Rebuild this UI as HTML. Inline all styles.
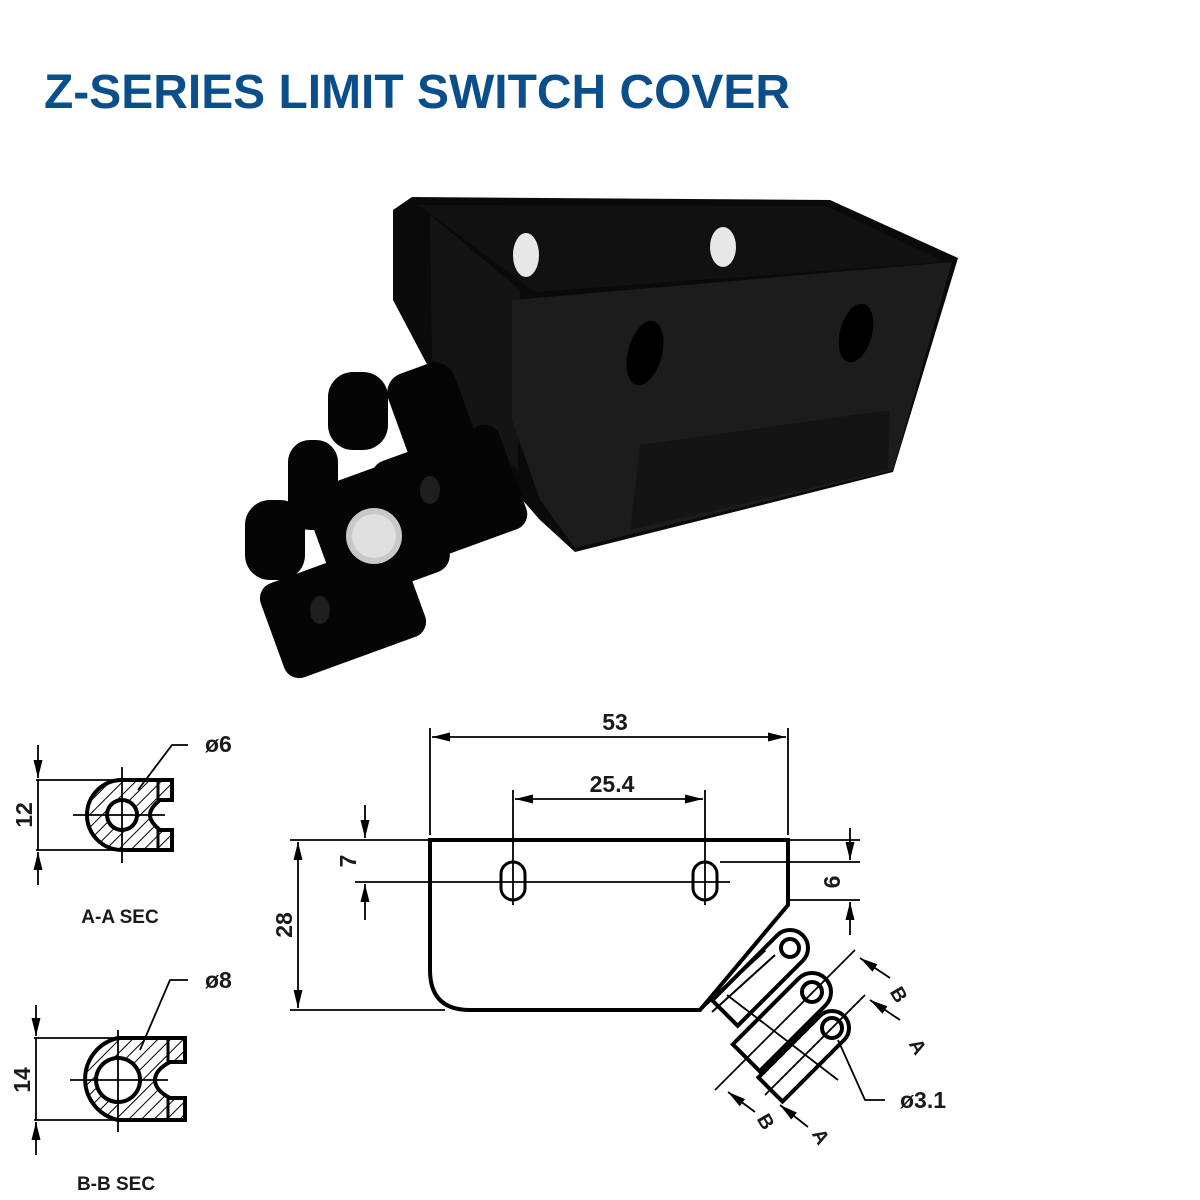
<!DOCTYPE html>
<html><head><meta charset="utf-8"><style>
html,body{margin:0;padding:0;background:#fff;}
svg{display:block;}
text{font-family:"Liberation Sans",sans-serif;font-weight:bold;}
</style></head><body>
<svg width="1200" height="1200" viewBox="0 0 1200 1200" xmlns="http://www.w3.org/2000/svg">
<defs>
<pattern id="h" patternUnits="userSpaceOnUse" width="9" height="9" patternTransform="rotate(45)">
<line x1="0" y1="0" x2="0" y2="9" stroke="#000" stroke-width="2"/>
</pattern>
<marker id="ar" viewBox="0 0 18 10" refX="18" refY="5" markerWidth="18" markerHeight="10" markerUnits="userSpaceOnUse" orient="auto-start-reverse">
<path d="M0,0.5 L18,5 L0,9.5 z" fill="#000"/>
</marker>
</defs>

<text x="44" y="108" font-size="48" fill="#0b4f8a" textLength="746" lengthAdjust="spacingAndGlyphs">Z-SERIES LIMIT SWITCH COVER</text>

<!-- Photo -->
<g>
<polygon points="393,210 412,197 830,200 958,258 893,472 575,552 540,520 470,440 430,370 393,300" fill="#0a0a0a"/>
<polygon points="418,205 826,206 945,262 535,292" fill="#111"/>
<polygon points="430,215 520,290 518,470 470,430 432,360" fill="#141414"/>
<polygon points="512,300 952,262 893,470 575,548 540,500 512,420" fill="#1c1c1c"/>
<polygon points="640,445 890,410 888,470 630,530" fill="#141414"/>
<ellipse cx="526" cy="255" rx="13" ry="22" fill="#e8e8e8"/>
<ellipse cx="723" cy="247" rx="13" ry="20" fill="#e8e8e8"/>
<ellipse cx="645" cy="353" rx="17" ry="33" fill="#000" transform="rotate(15 645 353)"/>
<ellipse cx="856" cy="333" rx="16" ry="30" fill="#000" transform="rotate(15 856 333)"/>
<!-- hinge lugs -->
<g fill="#050505">
<rect x="400" y="365" width="70" height="120" rx="20" transform="rotate(-20 435 425)"/>
<rect x="328" y="372" width="60" height="78" rx="25"/>
<rect x="382" y="440" width="135" height="110" rx="16" transform="rotate(-20 450 495)"/>
<rect x="288" y="440" width="50" height="90" rx="22"/>
<rect x="318" y="470" width="120" height="120" rx="18" transform="rotate(-20 378 530)"/>
<rect x="245" y="500" width="60" height="80" rx="25"/>
<rect x="268" y="560" width="150" height="100" rx="16" transform="rotate(-20 343 610)"/>
</g>
<circle cx="374" cy="536" r="28" fill="#c8c8c8"/>
<circle cx="374" cy="536" r="22" fill="#e0e0e0"/>
<ellipse cx="430" cy="490" rx="10" ry="14" fill="#1e1e1e"/>
<ellipse cx="320" cy="610" rx="10" ry="14" fill="#1e1e1e"/>
</g>

<g stroke="#000" fill="none">
<path d="M430,840 L788,840 L788,905 L700,1010 L470,1010 Q430,1010 430,970 Z" stroke-width="4"/>
<rect x="501" y="862" width="24" height="38" rx="12" stroke-width="3"/>
<rect x="693" y="862" width="24" height="38" rx="12" stroke-width="3"/>
<g stroke-width="1.8">
<line x1="430" y1="728" x2="430" y2="835"/>
<line x1="788" y1="728" x2="788" y2="835"/>
<line x1="432" y1="737" x2="786" y2="737" marker-start="url(#ar)" marker-end="url(#ar)"/>
<line x1="513" y1="790" x2="513" y2="905"/>
<line x1="705" y1="790" x2="705" y2="905"/>
<line x1="515" y1="799" x2="703" y2="799" marker-start="url(#ar)" marker-end="url(#ar)"/>
<line x1="290" y1="840" x2="428" y2="840"/>
<line x1="355" y1="882" x2="730" y2="882"/>
<line x1="365" y1="805" x2="365" y2="838" marker-end="url(#ar)"/>
<line x1="365" y1="920" x2="365" y2="884" marker-end="url(#ar)"/>
<line x1="290" y1="1010" x2="445" y2="1010"/>
<line x1="298" y1="842" x2="298" y2="1008" marker-start="url(#ar)" marker-end="url(#ar)"/>
<line x1="790" y1="840" x2="860" y2="840"/>
<line x1="720" y1="862" x2="860" y2="862"/>
<line x1="790" y1="900" x2="860" y2="900"/>
<line x1="850" y1="828" x2="850" y2="860" marker-end="url(#ar)"/>
<line x1="850" y1="935" x2="850" y2="902" marker-end="url(#ar)"/>
</g>
<g stroke-width="4" fill="#fff">
<g transform="rotate(45 790 948)"><path d="M772,948 A18,18 0 0 1 808,948 L808,1040 L772,1040 Z"/></g>
<g transform="rotate(45 812 992)"><path d="M793,992 A19,19 0 0 1 831,992 L831,1085 L793,1085 Z"/></g>
<g transform="rotate(45 832 1028)"><path d="M815,1028 A17,17 0 0 1 849,1028 L849,1115 L815,1115 Z"/></g>
<circle cx="790" cy="948" r="9"/>
<circle cx="812" cy="992" r="10"/>
<circle cx="832" cy="1028" r="10"/>
<line x1="702" y1="1008" x2="765" y2="950" stroke-width="3"/>
<line x1="712" y1="1012" x2="775" y2="955" stroke-width="2"/>
</g>
<g stroke-width="1.8">
<line x1="855" y1="950" x2="715" y2="1090"/>
<line x1="865" y1="995" x2="765" y2="1095"/>
<line x1="727" y1="995" x2="838" y2="1080"/>
<line x1="890" y1="978" x2="860" y2="958" marker-end="url(#ar)"/>
<line x1="900" y1="1020" x2="870" y2="1000" marker-end="url(#ar)"/>
<line x1="755" y1="1112" x2="728" y2="1092" marker-end="url(#ar)"/>
<line x1="808" y1="1127" x2="780" y2="1105" marker-end="url(#ar)"/>
<path d="M838,1040 L865,1100 L885,1100"/>
</g>

<!-- A-A section -->
<g stroke-width="1.8">
<line x1="38" y1="745" x2="38" y2="778" marker-end="url(#ar)"/>
<line x1="38" y1="885" x2="38" y2="852" marker-end="url(#ar)"/>
<line x1="36" y1="780" x2="120" y2="780"/>
<line x1="36" y1="850" x2="120" y2="850"/>
<line x1="38" y1="780" x2="38" y2="850"/>
<line x1="73" y1="815" x2="165" y2="815"/>
<line x1="122" y1="767" x2="122" y2="863"/>
<path d="M138,790 L172,745 L188,745"/>
</g>
<path d="M122,780 A35,35 0 0 0 122,850 L172,850 L172,830 L160,830 Q150,822 150,815 Q150,808 160,800 L172,800 L172,780 Z M122,800 A15,15 0 1 0 122.1,800 Z" fill="url(#h)" stroke-width="4" fill-rule="evenodd"/>
<line x1="158" y1="780" x2="158" y2="800" stroke-width="3"/>
<line x1="158" y1="830" x2="158" y2="850" stroke-width="3"/>

<!-- B-B section -->
<g stroke-width="1.8">
<line x1="36" y1="1005" x2="36" y2="1036" marker-end="url(#ar)"/>
<line x1="36" y1="1155" x2="36" y2="1122" marker-end="url(#ar)"/>
<line x1="34" y1="1038" x2="120" y2="1038"/>
<line x1="34" y1="1120" x2="120" y2="1120"/>
<line x1="36" y1="1038" x2="36" y2="1120"/>
<line x1="70" y1="1080" x2="168" y2="1080"/>
<line x1="118" y1="1030" x2="118" y2="1132"/>
<path d="M140,1050 L170,980 L188,980"/>
</g>
<path d="M118,1038 A42,42 0 0 0 118,1120 L185,1120 L185,1098 L170,1098 Q155,1090 155,1080 Q155,1070 170,1062 L185,1062 L185,1038 Z M118,1058 A22,22 0 1 0 118.1,1058 Z" fill="url(#h)" stroke-width="4" fill-rule="evenodd"/>
<line x1="168" y1="1038" x2="168" y2="1062" stroke-width="3"/>
<line x1="168" y1="1098" x2="168" y2="1120" stroke-width="3"/>
</g>

<g fill="#1a1a1a" font-size="23">
<text x="615" y="730" text-anchor="middle">53</text>
<text x="612" y="792" text-anchor="middle">25.4</text>
<text transform="translate(356,861) rotate(-90)" text-anchor="middle">7</text>
<text transform="translate(292,925) rotate(-90)" text-anchor="middle">28</text>
<text transform="translate(840,882) rotate(-90)" text-anchor="middle">6</text>
<text transform="translate(32,815) rotate(-90)" text-anchor="middle">12</text>
<text transform="translate(30,1080) rotate(-90)" text-anchor="middle">14</text>
<text x="205" y="752">ø6</text>
<text x="205" y="988">ø8</text>
<text x="900" y="1108">ø3.1</text>
<text x="120" y="923" text-anchor="middle" font-size="19">A-A SEC</text>
<text x="116" y="1190" text-anchor="middle" font-size="19">B-B SEC</text>
<text transform="translate(893,998) rotate(60)" text-anchor="middle" font-size="20">B</text>
<text transform="translate(912,1050) rotate(60)" text-anchor="middle" font-size="20">A</text>
<text transform="translate(760,1125) rotate(60)" text-anchor="middle" font-size="20">B</text>
<text transform="translate(815,1140) rotate(60)" text-anchor="middle" font-size="20">A</text>
</g>
</svg>
</body></html>
